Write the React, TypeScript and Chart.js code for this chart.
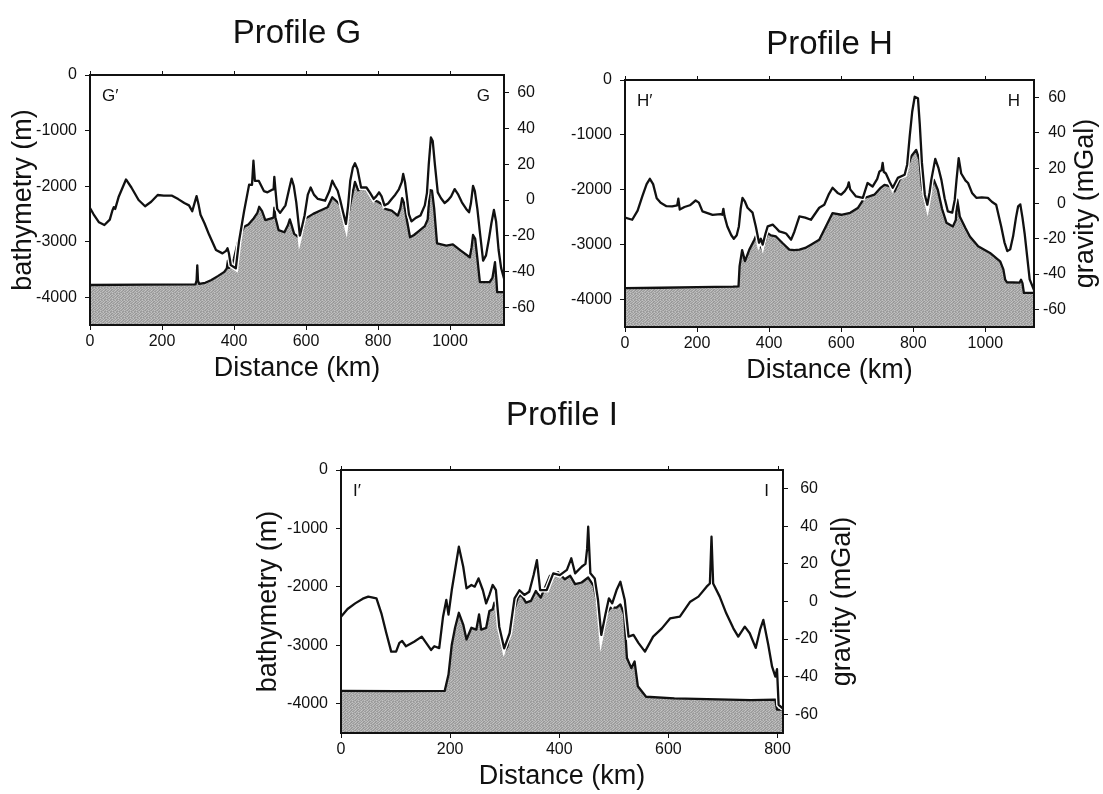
import { useEffect, useRef } from 'react';
import { Chart, registerables } from 'chart.js';

Chart.register(...registerables);

const FONT = '"Liberation Sans", Arial, Helvetica, sans-serif';
const INK = '#111';

// ---- Profile G ----
const G_GRAV_KM = [0, 10, 25, 40, 55, 62, 66, 70, 80, 100, 115, 135, 153, 170, 188, 205, 228, 245, 262, 275, 284, 290, 296, 302, 307, 318, 331, 350, 368, 378, 382, 386, 391, 405, 414, 428, 442, 450, 454, 458, 469, 483, 493, 506, 510, 512, 515, 520, 528, 543, 553, 560, 566, 573, 583, 590, 596, 605, 613, 622, 633, 653, 665, 673, 680, 688, 695, 703, 711, 717, 723, 730, 736, 743, 753, 768, 778, 788, 795, 803, 810, 818, 828, 838, 848, 858, 866, 870, 875, 880, 886, 893, 905, 918, 930, 936, 941, 947, 952, 958, 966, 975, 985, 995, 1003, 1013, 1023, 1033, 1045, 1053, 1058, 1064, 1069, 1076, 1083, 1092, 1100, 1108, 1115, 1122, 1128, 1135, 1142, 1150];
const G_GRAV_MGAL = [-4.5, -8, -12.5, -14, -11, -6, -4, -5, 2, 11.5, 7, 0, -3.5, -1, 2.8, 2.5, 2.4, 0.5, -1.7, -3, -6.3, -2, 2.2, -3, -8.3, -13, -19.5, -28, -29.9, -28.5, -27, -30, -36.4, -38.3, -23, -6.3, 8.6, 8.5, 22, 10.7, 10.7, 5, 4.3, 5.8, 6, 13, 6, -5, -7.2, -3, 6, 12, 8, -1.3, -19.9, -14, -8.7, 3, 7, 3, 0.6, -0.4, 5, 10.8, 8, 5.2, 0, -6.9, -13.4, -3, 10.8, 18, 20.6, 17.3, 7, 7, 4, 0.6, 2, 4.3, 2, -3, -2, 0.6, 3, 6, 10, 14.6, 10, 2, -8, -12, -10, -8.7, -3, 4, 20, 35, 33, 20, 4.3, 1, -1.7, 0, 2, 6.1, 3, -1.3, -5, -6.9, -2, 7.9, 5, -5, -18, -34, -31, -22, -13, -5.6, -12, -28, -38, -44];
const G_BATHY_KM = [0, 150, 293, 296, 298, 300, 303, 320, 336, 355, 373, 380, 383, 386, 391, 400, 410, 420, 428, 440, 455, 465, 470, 478, 487, 506, 510, 512, 515, 524, 540, 550, 555, 560, 567, 580, 590, 597, 620, 640, 660, 673, 688, 700, 706, 712, 718, 725, 736, 745, 758, 775, 790, 800, 812, 820, 838, 855, 862, 867, 872, 880, 889, 900, 915, 930, 938, 944, 950, 956, 964, 990, 1008, 1030, 1055, 1060, 1064, 1070, 1076, 1083, 1110, 1118, 1125, 1129, 1131, 1150];
const G_BATHY_M = [-3780, -3775, -3768, -3700, -3425, -3700, -3760, -3740, -3694, -3620, -3544, -3480, -3340, -3470, -3441, -3300, -3027, -2850, -2733, -2690, -2577, -2480, -2372, -2450, -2613, -2577, -2560, -2390, -2560, -2793, -2830, -2700, -2600, -2700, -2860, -2920, -2800, -2590, -2500, -2440, -2380, -2200, -2290, -2380, -2450, -2650, -2500, -2260, -1925, -2075, -2000, -2105, -2260, -2280, -2330, -2410, -2440, -2530, -2400, -2216, -2300, -2600, -2920, -2880, -2800, -2720, -2600, -2070, -2080, -2400, -3030, -3070, -3050, -3160, -3280, -3100, -2880, -2950, -3300, -3730, -3730, -3650, -3370, -3700, -3910, -3910];

// ---- Profile H ----
const H_GRAV_KM = [0, 20, 35, 48, 60, 69, 78, 88, 99, 115, 131, 145, 148, 152, 165, 180, 196, 205, 215, 243, 265, 270, 273, 276, 284, 295, 302, 310, 316, 321, 326, 333, 340, 354, 363, 372, 377, 382, 390, 396, 410, 420, 428, 440, 447, 461, 470, 484, 500, 516, 539, 553, 565, 576, 590, 600, 610, 618, 621, 625, 641, 660, 673, 687, 700, 706, 712, 715, 718, 724, 735, 743, 757, 776, 783, 790, 797, 804, 813, 818, 824, 832, 839, 845, 850, 861, 870, 878, 887, 896, 908, 915, 920, 926, 933, 945, 952, 963, 975, 990, 1007, 1018, 1030, 1044, 1053, 1061, 1069, 1077, 1085, 1091, 1097, 1103, 1109, 1116, 1123, 1135];
const H_GRAV_MGAL = [-8, -9.2, -4, 4, 11, 14, 11, 3, 0.4, -1.5, -1.6, -1, 2.7, -3.4, -2, -1, 1.7, 0.5, -4.5, -6.4, -6, -6.4, -3, -7, -13, -18, -20, -18, -13, -3, 3.2, 1, -2.4, -5.2, -13, -22.2, -20, -23.3, -17, -13, -12, -14, -15.8, -16.5, -17, -20.5, -16, -7.3, -8, -9.2, -2.4, -0.7, 5, 8.9, 6, 5, 7, 9.6, 12, 8, 4, 3.2, 11.6, 9.6, 14, 18.1, 19, 23, 18, 17, 12, 8.9, 14.5, 16.3, 22, 37.9, 52, 60.5, 59.6, 45, 23, 5, -0.7, 6, 13.4, 25.3, 20, 13.4, 3, -4.5, -5.2, 2, 13.4, 25.7, 17, 13, 11.6, 6, 3.2, 3.5, 3.2, 1, -0.7, -13, -22, -27, -26, -18.6, -8, -1.6, -0.5, -8, -17, -30, -43, -49];
const H_BATHY_KM = [0, 100, 200, 300, 315, 318, 325, 333, 345, 359, 366, 372, 382, 390, 396, 405, 419, 437, 456, 470, 484, 500, 516, 539, 555, 576, 600, 625, 646, 664, 692, 710, 720, 738, 748, 762, 780, 794, 808, 817, 824, 836, 845, 857, 868, 880, 892, 910, 918, 922, 926, 929, 945, 957, 980, 1013, 1041, 1050, 1055, 1060, 1095, 1099, 1103, 1107, 1135];
const H_BATHY_M = [-3790, -3785, -3775, -3765, -3760, -3390, -3100, -3300, -3090, -2910, -2800, -3000, -3090, -2900, -2790, -2830, -2850, -2970, -3090, -3100, -3090, -3060, -3000, -2910, -2700, -2424, -2455, -2420, -2333, -2150, -2090, -1960, -1910, -1940, -2030, -1820, -1667, -1394, -1273, -1450, -1940, -2273, -2090, -1820, -2000, -2350, -2600, -2667, -2550, -2180, -2350, -2485, -2700, -2850, -3030, -3150, -3303, -3450, -3636, -3685, -3690, -3640, -3700, -3880, -3880];

// ---- Profile I ----
const I_GRAV_KM = [0, 12, 26, 40, 50, 65, 74, 83, 92, 101, 107, 112, 119, 134, 148, 156, 165, 171, 180, 187, 193, 197, 203, 210, 216, 224, 230, 239, 245, 252, 260, 266, 272, 278, 284, 290, 299, 309, 318, 327, 336, 345, 353, 359, 365, 377, 389, 401, 414, 422, 429, 441, 448, 451, 453, 457, 465, 471, 477, 485, 491, 497, 505, 512, 520, 527, 536, 545, 557, 572, 588, 603, 621, 640, 655, 670, 676, 679, 682, 694, 706, 719, 728, 740, 749, 760, 768, 774, 783, 790, 796, 799, 802, 810];
const I_GRAV_MGAL = [-8.1, -4, -1, 1.5, 2.6, 1.7, -6.3, -16.8, -26.7, -26.7, -22, -21, -23.8, -21.4, -18.7, -22, -25.8, -23.8, -24.8, -8.1, 0.8, -7, 6.1, 18.5, 29.2, 18.5, 7, 8.8, 7.9, 12.3, 6, -1, 3.5, 8.8, 6, -13.4, -24.9, -16.9, 1.7, 6, 3.5, 5.2, 14.1, 22, 6.1, 6.1, 15, 14, 16.8, 23, 15, 18.5, 20, 28, 39.8, 15, 12.3, 0.8, -17.8, -6.3, 1.7, -1, 6.1, 10.5, 0.8, -18.7, -17.8, -22, -26.7, -18.7, -14.3, -9, -8.1, -0.1, 2.6, 7.9, 9.6, 34.5, 9.6, 2.6, -6.3, -14.3, -18.7, -13.4, -16.9, -24.7, -15, -9.8, -23, -34.7, -40, -36, -55, -57];
const I_BATHY_KM = [0, 100, 190, 197, 203, 209, 216, 224, 230, 239, 248, 253, 257, 266, 272, 278, 281, 287, 293, 299, 305, 315, 324, 330, 339, 348, 357, 366, 383, 398, 410, 420, 429, 441, 453, 463, 469, 475, 485, 494, 505, 512, 519, 524, 532, 538, 544, 559, 611, 751, 796, 799, 810];
const I_BATHY_M = [-3780, -3785, -3780, -3500, -2990, -2700, -2443, -2644, -2900, -2700, -2730, -2470, -2730, -2700, -2414, -2385, -2270, -2360, -2816, -3103, -3020, -2470, -2184, -2130, -2270, -2240, -2070, -2184, -1810, -1750, -1870, -1810, -1954, -1925, -1840, -1984, -2240, -2760, -2470, -2356, -2356, -2300, -2470, -3218, -3390, -3276, -3700, -3880, -3908, -3937, -3930, -4100, -4100];

// ---- Axis ticks ----
const BATHY_TICKS = [0, -1000, -2000, -3000, -4000];
const GRAV_TICKS = [60, 40, 20, 0, -20, -40, -60];
const DIST_TICKS_GH = [0, 200, 400, 600, 800, 1000];
const DIST_TICKS_I = [0, 200, 400, 600, 800];

// Grey levels of the tile used for the sea-floor fill
const GRAIN_TILE = [
  [0xa0, 0xbc, 0x98, 0xb0, 0xc2, 0xa4],
  [0xb6, 0x9c, 0xc0, 0xa2, 0x96, 0xba],
  [0x9e, 0xc4, 0xaa, 0x94, 0xb8, 0xa8],
  [0xc0, 0xa6, 0x9a, 0xbe, 0xa0, 0x9c],
  [0xa2, 0x98, 0xb8, 0xa6, 0xc2, 0xb0],
  [0xb4, 0xbe, 0xa0, 0x9a, 0xac, 0x96],
];

type Box = { x: number; y: number; w: number; h: number };
type Area = { l: number; r: number; t: number; b: number };

type PanelSpec = {
  box: Box; // canvas position on the page
  area: Area; // plot frame on the page
  xMax: number;
  distTicks: number[];
  gravKm: number[];
  gravMgal: number[];
  bathyKm: number[];
  bathyM: number[];
  title: string;
  titleBaseline: number; // page y
  leftTag: string;
  rightTag: string;
  bathyTitleX: number | null; // page x of the left title centre
  gravTitleX: number | null; // page x of the right title centre
  gravLabelRight: number; // page x where right tick labels end
};

const PANELS: PanelSpec[] = [
  {
    box: { x: 0, y: 0, w: 560, h: 395 },
    area: { l: 90, r: 504, t: 75, b: 325 },
    xMax: 1150,
    distTicks: DIST_TICKS_GH,
    gravKm: G_GRAV_KM,
    gravMgal: G_GRAV_MGAL,
    bathyKm: G_BATHY_KM,
    bathyM: G_BATHY_M,
    title: 'Profile G',
    titleBaseline: 43,
    leftTag: 'G\u2032',
    rightTag: 'G',
    bathyTitleX: 24,
    gravTitleX: null,
    gravLabelRight: 535,
  },
  {
    box: { x: 560, y: 0, w: 543, h: 395 },
    area: { l: 625, r: 1034, t: 80, b: 327 },
    xMax: 1135,
    distTicks: DIST_TICKS_GH,
    gravKm: H_GRAV_KM,
    gravMgal: H_GRAV_MGAL,
    bathyKm: H_BATHY_KM,
    bathyM: H_BATHY_M,
    title: 'Profile H',
    titleBaseline: 54,
    leftTag: 'H\u2032',
    rightTag: 'H',
    bathyTitleX: null,
    gravTitleX: 1086,
    gravLabelRight: 1066,
  },
  {
    box: { x: 240, y: 390, w: 620, h: 404 },
    area: { l: 341, r: 783, t: 470, b: 733 },
    xMax: 810,
    distTicks: DIST_TICKS_I,
    gravKm: I_GRAV_KM,
    gravMgal: I_GRAV_MGAL,
    bathyKm: I_BATHY_KM,
    bathyM: I_BATHY_M,
    title: 'Profile I',
    titleBaseline: 425,
    leftTag: 'I\u2032',
    rightTag: 'I',
    bathyTitleX: 269,
    gravTitleX: 843,
    gravLabelRight: 818,
  },
];

const X_AXIS_H = 60;
const TITLE_FONT = 27;
const TICK_FONT = 16;
const LINE_W = 2.3;

// Frame, top ticks, panel title, end-point tags and the right-hand title
const panelDecor = {
  id: 'panelDecor',
  afterDraw(chart: any, _args: any, opts: any) {
    const { ctx, chartArea: a, scales } = chart;
    ctx.save();
    ctx.strokeStyle = INK;
    ctx.lineWidth = 2;
    ctx.strokeRect(a.left, a.top, a.right - a.left, a.bottom - a.top);

    ctx.lineWidth = 1;
    for (const v of opts.topTicks as number[]) {
      const x = Math.round(scales.x.getPixelForValue(v)) + 0.5;
      ctx.beginPath();
      ctx.moveTo(x, a.top);
      ctx.lineTo(x, a.top - 4);
      ctx.stroke();
    }

    ctx.fillStyle = INK;
    ctx.textBaseline = 'alphabetic';
    ctx.font = `33px ${FONT}`;
    ctx.textAlign = 'center';
    ctx.fillText(opts.title, (a.left + a.right) / 2, opts.titleY);

    ctx.font = `17px ${FONT}`;
    ctx.textAlign = 'left';
    ctx.fillText(opts.leftTag, a.left + 12, a.top + 26);
    ctx.textAlign = 'right';
    ctx.fillText(opts.rightTag, a.right - 14, a.top + 26);

    if (opts.rightTitle) {
      ctx.translate(opts.rightTitleX, (a.top + a.bottom) / 2);
      ctx.rotate(-Math.PI / 2);
      ctx.font = `${TITLE_FONT}px ${FONT}`;
      ctx.textAlign = 'center';
      ctx.textBaseline = 'middle';
      ctx.fillText(opts.rightTitle, 0, 0);
    }
    ctx.restore();
  },
};

function grainPattern(): CanvasPattern | string {
  const n = GRAIN_TILE.length;
  const c = document.createElement('canvas');
  c.width = n;
  c.height = n;
  const g = c.getContext('2d');
  if (!g) return '#ababab';
  GRAIN_TILE.forEach((row, y) =>
    row.forEach((v, x) => {
      g.fillStyle = `rgb(${v},${v},${v})`;
      g.fillRect(x, y, 1, 1);
    })
  );
  return g.createPattern(c, 'repeat') || '#ababab';
}

const points = (xs: number[], ys: number[]) => xs.map((x, i) => ({ x, y: ys[i] }));

const fixedTicks = (values: number[]) => (scale: any) => {
  scale.ticks = values.map((value) => ({ value }));
};

function buildConfig(p: PanelSpec): any {
  const areaL = p.area.l - p.box.x;
  const areaR = p.area.r - p.box.x;
  const areaT = p.area.t - p.box.y;
  const areaB = p.area.b - p.box.y;
  const rightW = p.gravLabelRight - p.area.r;
  const padRight = p.box.w - areaR - rightW;
  const padBottom = p.box.h - areaB - X_AXIS_H;

  const tickFont = { family: FONT, size: TICK_FONT };
  const titleFont = { family: FONT, size: TITLE_FONT, lineHeight: 1 };
  const axisGrid = {
    display: true,
    drawOnChartArea: false,
    drawTicks: true,
    tickLength: 5,
    color: INK,
    lineWidth: 1,
  };
  const axisBorder = { display: true, color: INK, width: 2 };
  const gravityPts = points(p.gravKm, p.gravMgal);

  return {
    type: 'line',
    data: {
      datasets: [
        {
          label: 'gravity',
          data: gravityPts,
          yAxisID: 'yG',
          borderColor: INK,
          borderWidth: LINE_W,
          borderJoinStyle: 'round',
          pointRadius: 0,
          fill: false,
          order: 0,
        },
        {
          label: 'gravity edge',
          data: gravityPts,
          yAxisID: 'yG',
          borderColor: '#ffffff',
          borderWidth: 5,
          pointRadius: 0,
          fill: false,
          order: 1,
        },
        {
          label: 'bathymetry',
          data: points(p.bathyKm, p.bathyM),
          yAxisID: 'yB',
          borderColor: INK,
          borderWidth: LINE_W,
          borderJoinStyle: 'round',
          pointRadius: 0,
          backgroundColor: grainPattern(),
          fill: 'start',
          order: 2,
        },
      ],
    },
    options: {
      animation: false,
      responsive: false,
      maintainAspectRatio: false,
      events: [],
      layout: { padding: { left: 0, top: areaT, right: padRight, bottom: padBottom } },
      plugins: {
        legend: { display: false },
        tooltip: { enabled: false },
        title: { display: false },
        panelDecor: {
          title: p.title,
          titleY: p.titleBaseline - p.box.y,
          leftTag: p.leftTag,
          rightTag: p.rightTag,
          rightTitle: p.gravTitleX !== null ? 'gravity (mGal)' : '',
          rightTitleX: p.gravTitleX !== null ? p.gravTitleX - p.box.x : 0,
          topTicks: p.distTicks,
        },
      },
      scales: {
        x: {
          type: 'linear',
          position: 'bottom',
          min: 0,
          max: p.xMax,
          afterBuildTicks: fixedTicks(p.distTicks),
          afterFit: (s: any) => {
            s.height = X_AXIS_H;
          },
          grid: axisGrid,
          border: axisBorder,
          ticks: {
            font: tickFont,
            color: INK,
            padding: 2,
            maxRotation: 0,
            autoSkip: false,
            callback: (v: any) => String(v),
          },
          title: {
            display: true,
            text: 'Distance (km)',
            font: titleFont,
            color: INK,
            padding: { top: 0, bottom: 2.5 },
          },
        },
        yB: {
          type: 'linear',
          position: 'left',
          min: -4500,
          max: 0,
          afterBuildTicks: fixedTicks(BATHY_TICKS),
          afterFit: (s: any) => {
            s.width = areaL;
          },
          grid: axisGrid,
          border: axisBorder,
          ticks: {
            font: tickFont,
            color: INK,
            padding: 8,
            autoSkip: false,
            callback: (v: any) => String(v),
          },
          title: {
            display: p.bathyTitleX !== null,
            text: 'bathymetry (m)',
            font: titleFont,
            color: INK,
            padding: { top: p.bathyTitleX !== null ? p.bathyTitleX - p.box.x - TITLE_FONT / 2 : 0, bottom: 0 },
          },
        },
        yG: {
          type: 'linear',
          position: 'right',
          min: -70,
          max: 70,
          afterBuildTicks: fixedTicks(GRAV_TICKS),
          afterFit: (s: any) => {
            s.width = rightW;
          },
          grid: axisGrid,
          border: axisBorder,
          ticks: {
            font: tickFont,
            color: INK,
            crossAlign: 'far',
            autoSkip: false,
            callback: (v: any) => String(v),
          },
        },
      },
    },
    plugins: [panelDecor],
  };
}

function Panel({ spec }: { spec: PanelSpec }) {
  const ref = useRef<HTMLCanvasElement>(null);
  useEffect(() => {
    const canvas = ref.current;
    if (!canvas) return;
    const chart = new Chart(canvas, buildConfig(spec));
    return () => chart.destroy();
  }, [spec]);
  return (
    <canvas
      ref={ref}
      width={spec.box.w}
      height={spec.box.h}
      style={{
        position: 'absolute',
        left: spec.box.x,
        top: spec.box.y,
        width: spec.box.w,
        height: spec.box.h,
      }}
    />
  );
}

export default function App() {
  return (
    <div
      style={{
        position: 'absolute',
        left: 0,
        top: 0,
        width: 1103,
        height: 794,
        background: '#ffffff',
        overflow: 'hidden',
      }}
    >
      {PANELS.map((spec) => (
        <Panel key={spec.title} spec={spec} />
      ))}
    </div>
  );
}
